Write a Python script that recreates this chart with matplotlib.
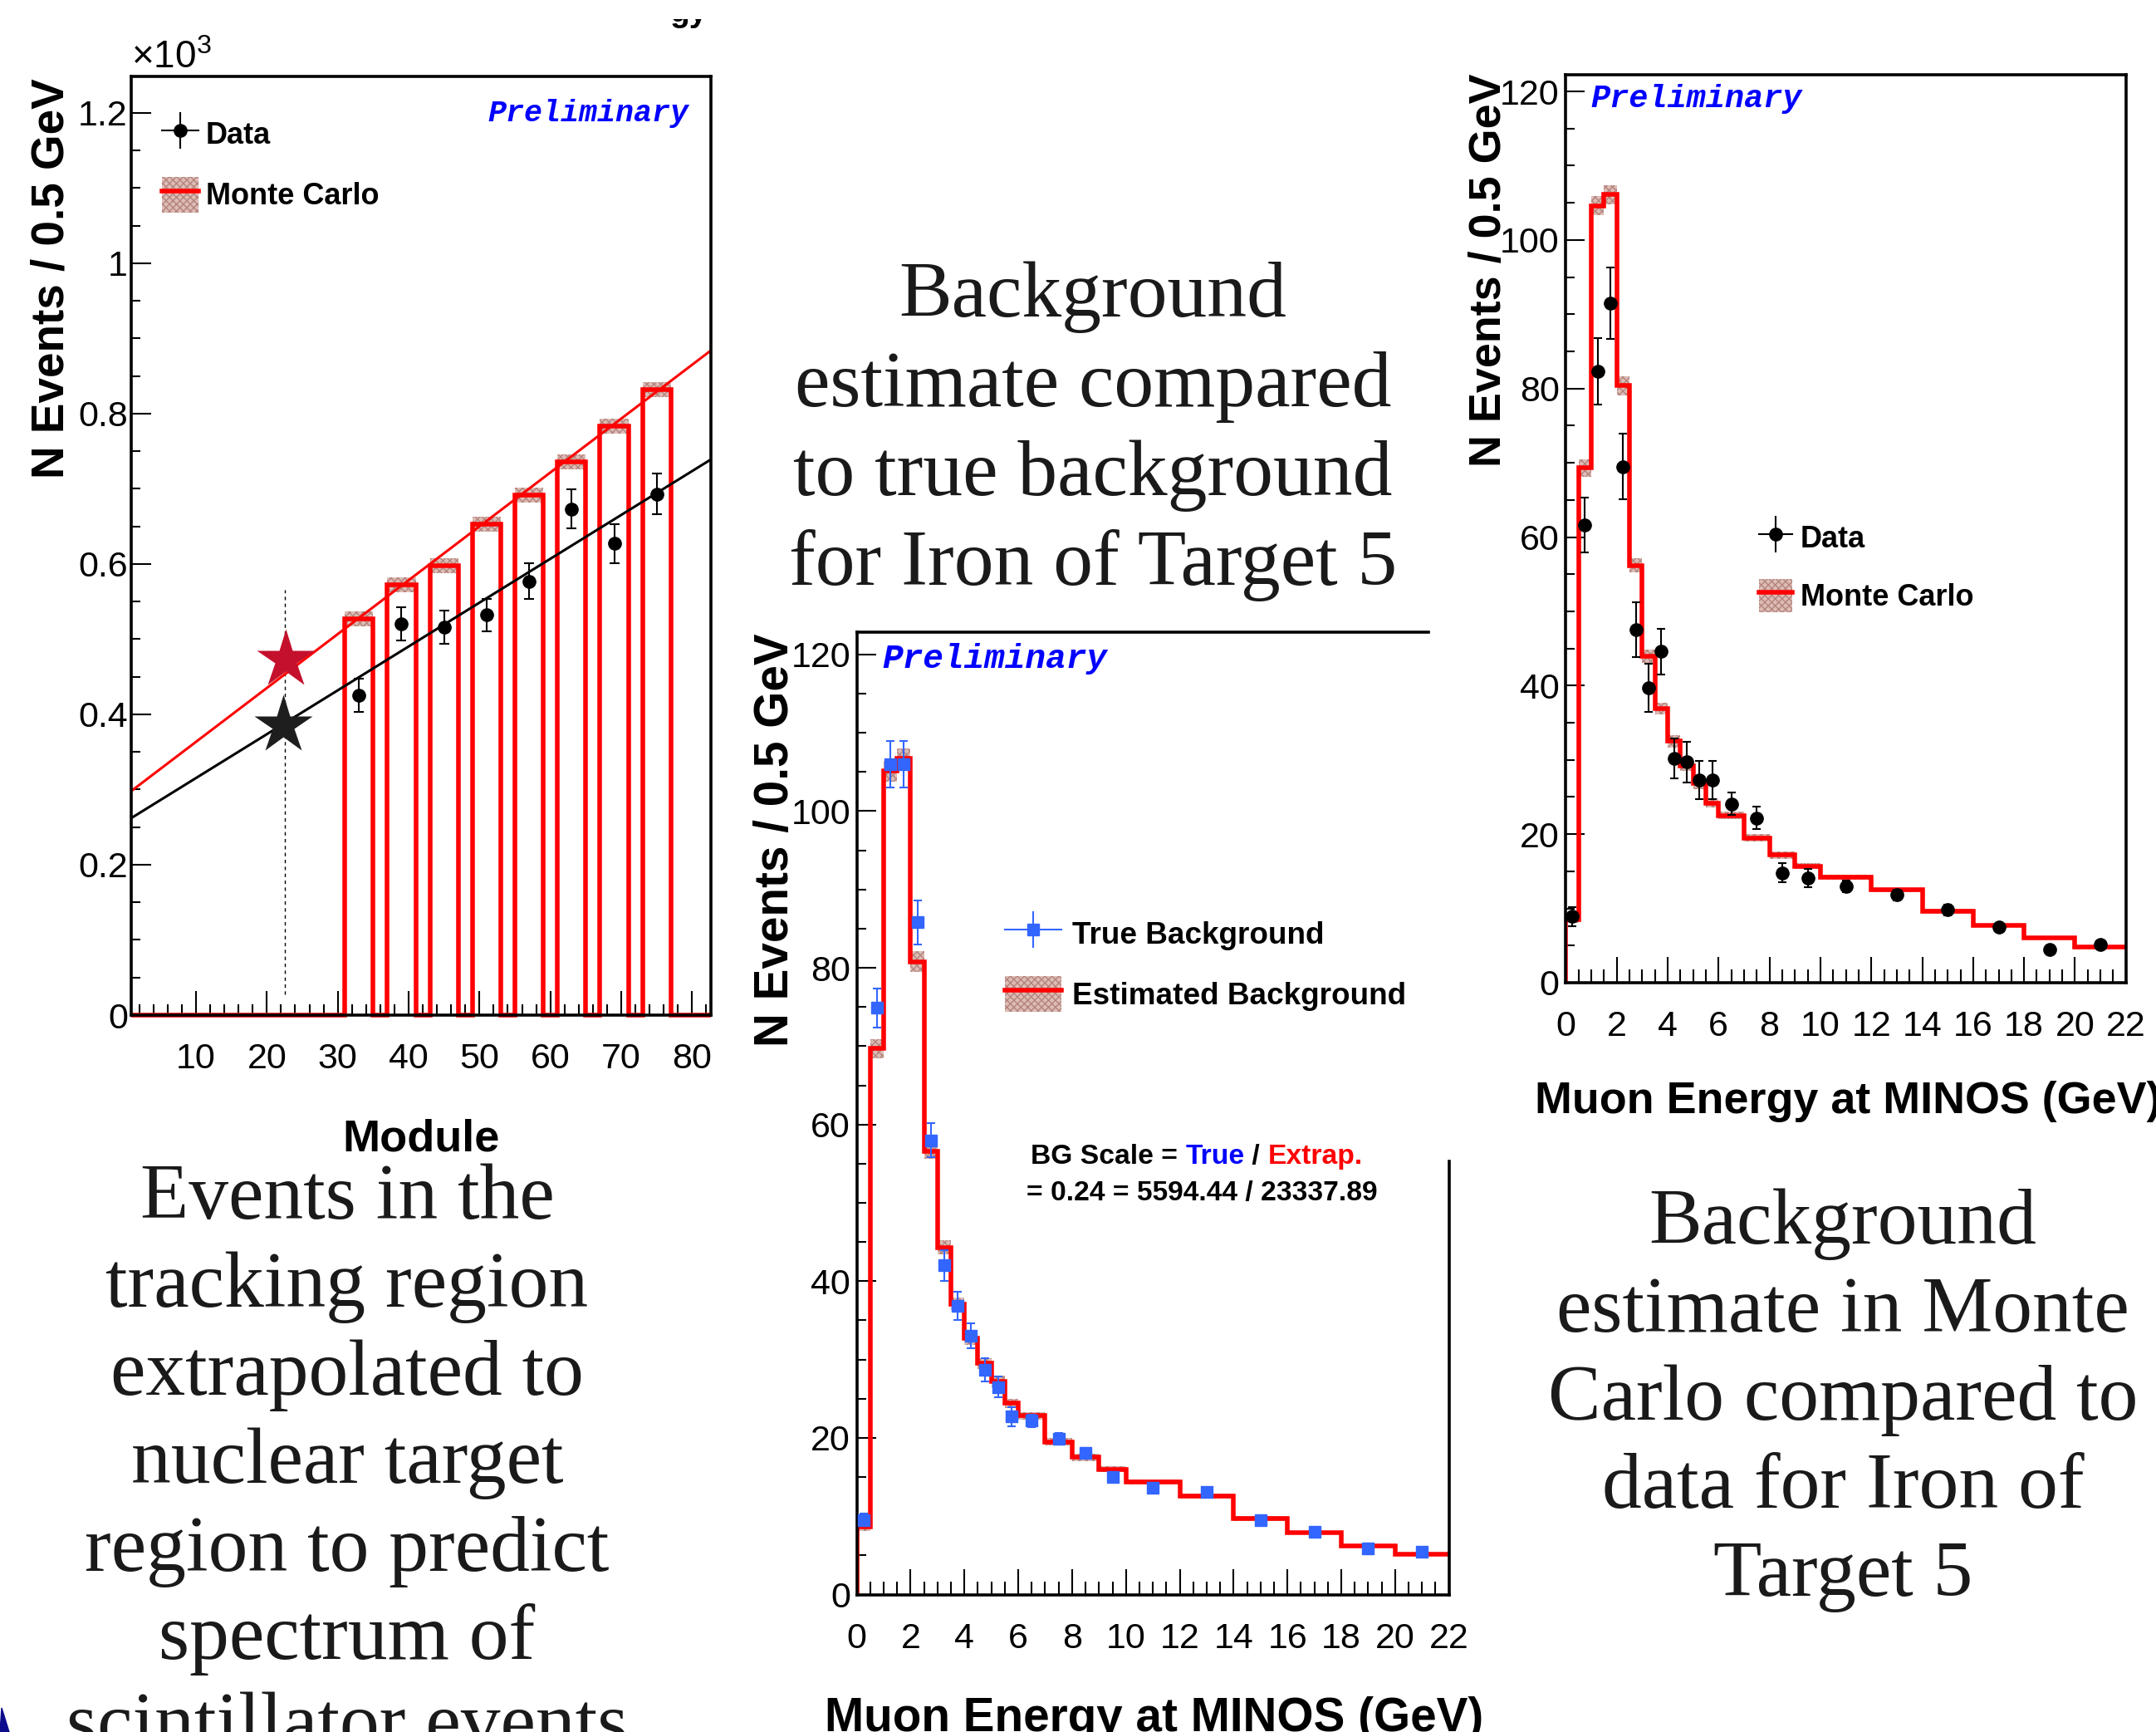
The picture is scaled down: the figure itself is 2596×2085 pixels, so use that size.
import numpy as np
import matplotlib
matplotlib.use("Agg")
import matplotlib.pyplot as plt
from matplotlib.lines import Line2D
from matplotlib.patches import Patch, Polygon
from matplotlib.ticker import MultipleLocator, FuncFormatter
from matplotlib.transforms import Bbox

plt.rcParams['font.family'] = ['Liberation Sans', 'DejaVu Sans']
plt.rcParams['mathtext.default'] = 'regular'
plt.rcParams['hatch.linewidth'] = 1.0

# ---------------- data : panel 1 (module extrapolation) ----------------
module_bin_lo = [31, 37, 43, 49, 55, 61, 67, 73]
module_bin_hi = [35, 41, 47, 53, 59, 65, 71, 77]
mc_module_counts = [527, 572, 598, 653, 692, 736, 783, 832]
mc_module_err = [10, 10, 10, 10, 10, 10, 10, 10]
data_modules = [33, 39, 45, 51, 57, 63, 69, 75]
data_module_counts = [425, 520, 516, 532, 577, 673, 627, 693]
data_module_err = [22, 22, 22, 22, 24, 26, 26, 27]
mc_fit_params = [291.8, 7.165]      # intercept, slope
data_fit_params = [257.0, 5.832]    # intercept, slope
target_module = 22.5
mc_extrap_star = 473
data_extrap_star = 386
target_line_range = [28, 566]

# ---------------- data : panels 2 and 3 (muon energy) ----------------
energy_edges = [0, 0.5, 1, 1.5, 2, 2.5, 3, 3.5, 4, 4.5, 5, 5.5, 6,
                7, 8, 9, 10, 12, 14, 16, 18, 20, 22]
est_bg = [8.6, 69.7, 105.1, 106.7, 80.8, 56.6, 44.3, 37.1, 32.7, 29.5, 27.2,
          24.4, 22.8, 19.5, 17.5, 16.0, 14.4, 12.6, 9.7, 7.9, 6.2, 5.1]
est_bg_err = [0.5, 1.2, 1.3, 1.3, 1.3, 1.0, 0.9, 0.8, 0.8, 0.7, 0.7,
              0.6, 0.5, 0.5, 0.5, 0.4, 0.3, 0.3, 0.3, 0.2, 0.2, 0.2]
true_bg = [9.5, 74.9, 106.0, 106.0, 85.8, 58.0, 42.0, 36.8, 33.0, 28.7, 26.5,
           22.7, 22.2, 19.9, 18.1, 15.0, 13.6, 13.1, 9.5, 8.0, 5.9, 5.5]
true_bg_err = [0.8, 2.5, 3.0, 3.0, 2.8, 2.2, 2.0, 1.8, 1.6, 1.5, 1.3,
               1.2, 0.8, 0.7, 0.6, 0.6, 0.3, 0.3, 0.3, 0.2, 0.2, 0.2]
mc_energy = [8.5, 69.3, 104.6, 106.1, 80.4, 56.2, 44.0, 36.9, 32.5, 29.2, 26.8,
             24.2, 22.5, 19.5, 17.2, 15.7, 14.2, 12.5, 9.6, 7.7, 6.0, 4.8]
mc_energy_err = [0.5, 1.2, 1.3, 1.3, 1.3, 1.0, 0.9, 0.8, 0.8, 0.7, 0.7,
                 0.6, 0.5, 0.5, 0.5, 0.4, 0.3, 0.3, 0.3, 0.2, 0.2, 0.2]
data_energy = [8.9, 61.6, 82.3, 91.5, 69.5, 47.5, 39.7, 44.6, 30.2, 29.7, 27.3,
               27.3, 24.1, 22.2, 14.8, 14.1, 13.0, 11.8, 9.8, 7.5, 4.5, 5.2]
data_energy_err = [1.25, 3.7, 4.5, 4.8, 4.4, 3.7, 3.2, 3.1, 2.7, 2.7, 2.6,
                   2.6, 1.55, 1.5, 1.3, 1.25, 0.8, 0.75, 0.7, 0.6, 0.5, 0.5]

# ---------------- text ----------------
title_mid = ["Background", "estimate compared", "to true background",
             "for Iron of Target 5"]
text_left = ["Events in the", "tracking region", "extrapolated to",
             "nuclear target", "region to predict", "spectrum of",
             "scintillator events"]
text_right = ["Background", "estimate in Monte", "Carlo compared to",
              "data for Iron of", "Target 5"]
ylabel = "N Events / 0.5 GeV"
xlabel_e = "Muon Energy at MINOS (GeV)"

# ---------------- style ----------------
W, H, DPI = 2596, 2085, 100
RED = '#ff0000'
BLUE = '#3366ff'
PREL = '#0000ff'
BAND_FC = '#dcbcb6'
BAND_EC = '#b4847c'
TICKFS = 31
BOLD = dict(family=['Liberation Sans', 'DejaVu Sans'], weight='bold')
SERIF = dict(family=['Liberation Serif', 'DejaVu Serif'], color='#1a1a1a')
MONO = dict(family=['Liberation Mono', 'DejaVu Sans Mono'], weight='bold',
            style='italic', color=PREL)

fig = plt.figure(figsize=(W / DPI, H / DPI), dpi=DPI)
fig.patch.set_facecolor('white')


def px_axes(x0, y0, x1, y1):
    return fig.add_axes([x0 / W, 1 - y1 / H, (x1 - x0) / W, (y1 - y0) / H])


def ftext(x, y, s, **kw):
    return fig.text(x / W, 1 - y / H, s, **kw)


def style_axes(ax, xmaj, xmin_, ymaj, ymin_, xlen, ylen, ypad):
    for sp in ax.spines.values():
        sp.set_linewidth(2.6)
    ax.xaxis.set_major_locator(MultipleLocator(xmaj))
    ax.xaxis.set_minor_locator(MultipleLocator(xmin_))
    ax.yaxis.set_major_locator(MultipleLocator(ymaj))
    ax.yaxis.set_minor_locator(MultipleLocator(ymin_))
    ax.tick_params(which='both', direction='in', top=False, right=False,
                   width=1.5, colors='black', labelsize=TICKFS)
    ax.tick_params(axis='x', which='major', length=xlen[0], pad=24)
    ax.tick_params(axis='x', which='minor', length=xlen[1])
    ax.tick_params(axis='y', which='major', length=ylen[0], pad=ypad)
    ax.tick_params(axis='y', which='minor', length=ylen[1])


band_kw = dict(facecolor=BAND_FC, edgecolor=BAND_EC, hatch='xxxx',
               linewidth=0, align='edge')
leg_prop = dict(family=['Liberation Sans'], weight='bold', size=26)

# ====================== panel 1 ======================
ax1 = px_axes(158, 91.5, 856, 1222)
ax1.set_xlim(0.86, 82.65)
ax1.set_ylim(0, 1249)
style_axes(ax1, 10, 2, 200, 50, (21, 9.5), (17, 8), 3)
ax1.yaxis.set_major_formatter(FuncFormatter(lambda v, p: f"{v / 1000:g}"))

lo = np.array(module_bin_lo, float)
hi = np.array(module_bin_hi, float)
hmc = np.array(mc_module_counts, float)
emc = np.array(mc_module_err, float)
xl = ax1.get_xlim()
edges1 = np.concatenate([[xl[0]], np.column_stack([lo, hi]).ravel(), [xl[1]]])
vals1 = np.concatenate([[0], np.column_stack([hmc, np.zeros_like(hmc)]).ravel()])
ax1.bar(lo, 2 * emc, width=hi - lo, bottom=hmc - emc, zorder=1.5, **band_kw)
ax1.stairs(vals1, edges1, baseline=None, color=RED, linewidth=4,
           zorder=2.2, clip_on=False)

xs = np.array(xl)
ax1.plot(xs, mc_fit_params[0] + mc_fit_params[1] * xs, color=RED, lw=2.2, zorder=2.4)
ax1.plot(xs, data_fit_params[0] + data_fit_params[1] * xs, color='black',
         lw=2.2, zorder=2.4)
ax1.vlines(target_module, target_line_range[0], target_line_range[1],
           colors='black', linestyles=(0, (3, 3)), lw=1.0, zorder=2.3)
ax1.errorbar(data_modules, data_module_counts, yerr=data_module_err, fmt='o',
             color='black', ms=11, elinewidth=1.5, capsize=4, capthick=1.5,
             zorder=3)
ax1.plot([target_module + 0.2], [mc_extrap_star], marker='*', ms=53,
         color='#c4102c', mec='none', zorder=4)
ax1.plot([target_module - 0.2], [data_extrap_star], marker='*', ms=53,
         color='#1e1e1e', mec='none', zorder=4)

data_handle = (Line2D([], [], color='black', lw=1.5, marker='o', ms=11),
               Line2D([], [], ls='none', marker='|', ms=32, mew=1.5, color='black'))
mc_handle = (Patch(facecolor=BAND_FC, edgecolor=BAND_EC, hatch='xxxx', lw=0),
             Line2D([], [], color=RED, lw=4))
ax1.legend([data_handle, mc_handle], ['Data', 'Monte Carlo'],
           loc='upper left', bbox_to_anchor=(195 / W, 1 - 140 / H),
           bbox_transform=fig.transFigure, frameon=False, borderpad=0,
           borderaxespad=0, handlelength=1.22, handleheight=1.45,
           handletextpad=0.25, labelspacing=0.83, prop=leg_prop)

ftext(158, 82, r'$\times10^{3}$', fontsize=33, ha='left', va='baseline')
ftext(587, 137, 'Preliminary', fontsize=26.4, ha='left', va='center', **MONO)
ftext(63, 94, ylabel, fontsize=39.5, rotation=90, ha='center', va='top', **BOLD)
ftext(507, 1386, 'Module', fontsize=39, ha='center', va='baseline', **BOLD)

# clipped fragment of a title above the first plot
frag = ftext(806, 26, 'gy', fontsize=28, ha='left', va='baseline', **BOLD)
frag.set_clip_box(Bbox.from_extents(780, 0, 870, H - 23))
frag.set_clip_on(True)

# ====================== panel 2 ======================
ee = np.array(energy_edges, float)
ec = 0.5 * (ee[:-1] + ee[1:])
ew = np.diff(ee)

ax2 = px_axes(1031.6, 761, 1744.7, 1919.5)
ax2.set_xlim(0, 22)
ax2.set_ylim(0, 122.85)
style_axes(ax2, 2, 0.5, 20, 5, (22, 11.5), (16.5, 8), 5.5)
ax2.spines['top'].set_bounds(0, 21.24)
ax2.spines['right'].set_bounds(0, 55.3)

eb = np.array(est_bg)
ebe = np.array(est_bg_err)
ax2.bar(ee[:-1], 2 * ebe, width=ew, bottom=eb - ebe, zorder=1.5, **band_kw)
ax2.stairs(eb, ee, baseline=None, color=RED, linewidth=4, zorder=2.2)
ax2.vlines(ee[0], 0, eb[0], colors=RED, lw=4, zorder=2.2)
ax2.errorbar(ec, true_bg, yerr=true_bg_err, fmt='s', color=BLUE, ms=10,
             elinewidth=1.5, capsize=3.5, capthick=1.5, zorder=3)

true_handle = (Line2D([], [], color=BLUE, lw=1.5, marker='s', ms=10),
               Line2D([], [], ls='none', marker='|', ms=32, mew=1.5, color=BLUE))
ax2.legend([true_handle, mc_handle], ['True Background', 'Estimated Background'],
           loc='upper left', bbox_to_anchor=(1210 / W, 1 - 1102.5 / H),
           bbox_transform=fig.transFigure, frameon=False, borderpad=0,
           borderaxespad=0, handlelength=1.84, handleheight=1.4,
           handletextpad=0.36, labelspacing=0.82,
           prop=dict(family=['Liberation Sans'], weight='bold', size=26.6))

BGFS = 24.2
t0 = ftext(1241, 1401, 'BG Scale = ', fontsize=BGFS, ha='left', va='baseline', **BOLD)
t1 = ax2.annotate('True', xycoords=t0, xy=(1, 0), va='bottom', ha='left',
                  fontsize=BGFS, color='#0000ff', **BOLD)
t2 = ax2.annotate(' / ', xycoords=t1, xy=(1, 0), va='bottom', ha='left',
                  fontsize=BGFS, color='black', **BOLD)
t3 = ax2.annotate('Extrap.', xycoords=t2, xy=(1, 0), va='bottom', ha='left',
                  fontsize=BGFS, color=RED, **BOLD)
ftext(1236, 1445, '= 0.24 = 5594.44 / 23337.89', fontsize=BGFS, ha='left',
      va='baseline', **BOLD)

ftext(1062, 793, 'Preliminary', fontsize=29.6, ha='left', va='center', **MONO)
ftext(934, 762, ylabel, fontsize=40.8, rotation=90, ha='center', va='top', **BOLD)
ftext(993, 2084, xlabel_e, fontsize=40.8, ha='left', va='baseline', **BOLD)

# ====================== panel 3 ======================
ax3 = px_axes(1885.3, 90.4, 2559.8, 1183)
ax3.set_xlim(0, 22)
ax3.set_ylim(0, 122.2)
style_axes(ax3, 2, 0.5, 20, 5, (22, 11.5), (16.5, 8), 5.5)

me = np.array(mc_energy)
mee = np.array(mc_energy_err)
ax3.bar(ee[:-1], 2 * mee, width=ew, bottom=me - mee, zorder=1.5, **band_kw)
ax3.stairs(me, ee, baseline=None, color=RED, linewidth=4, zorder=2.2)
ax3.vlines(ee[0], 0, me[0], colors=RED, lw=4, zorder=2.2)
ax3.errorbar(ec, data_energy, yerr=data_energy_err, fmt='o', color='black',
             ms=11, elinewidth=1.5, capsize=3.5, capthick=1.5, zorder=3)
ax3.legend([data_handle, mc_handle], ['Data', 'Monte Carlo'],
           loc='upper left', bbox_to_anchor=(2118 / W, 1 - 627 / H),
           bbox_transform=fig.transFigure, frameon=False, borderpad=0,
           borderaxespad=0, handlelength=1.1, handleheight=1.3,
           handletextpad=0.28, labelspacing=0.85, prop=leg_prop)

ftext(1915, 119, 'Preliminary', fontsize=27.8, ha='left', va='center', **MONO)
ftext(1793, 89, ylabel, fontsize=38.8, rotation=90, ha='center', va='top', **BOLD)
ftext(1848, 1340, xlabel_e, fontsize=38.8, ha='left', va='baseline', **BOLD)

# ====================== slide text ======================
for i, line in enumerate(title_mid):
    ftext(1316, 381 + 107.6 * i, line, fontsize=68.8, ha='center',
          va='baseline', **SERIF)
for i, line in enumerate(text_left):
    ftext(418, 1467 + 106 * i, line, fontsize=68.8, ha='center',
          va='baseline', **SERIF)
for i, line in enumerate(text_right):
    ftext(2219, 1497 + 106 * i, line, fontsize=68.8, ha='center',
          va='baseline', **SERIF)

fig.patches.append(Polygon([[0, 0], [11 / W, 0], [2 / W, 1 - 2056 / H]],
                           closed=True, transform=fig.transFigure,
                           color='#0b0b8c', zorder=5))

fig.savefig('out.png', dpi=DPI)
